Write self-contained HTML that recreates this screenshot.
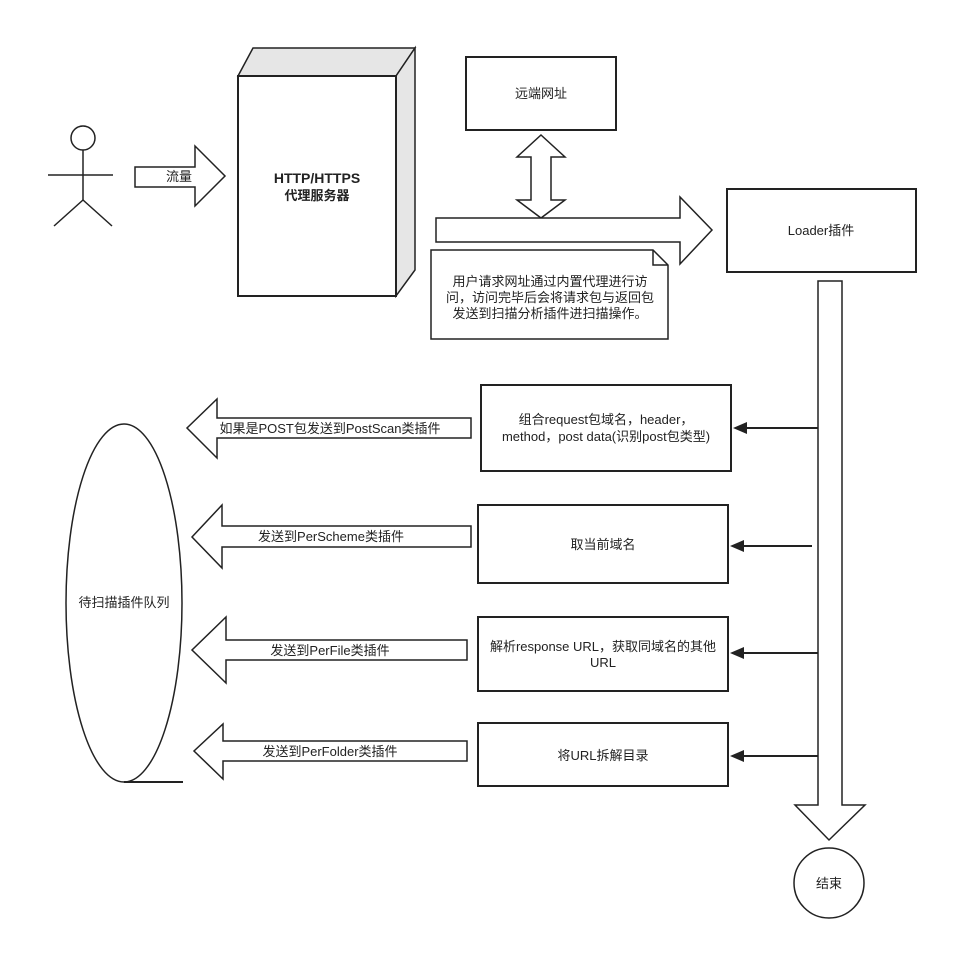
<!DOCTYPE html>
<html><head><meta charset="utf-8"><style>
body{margin:0;background:#fff}
svg{display:block}
text{font-family:"Liberation Sans","Noto Sans CJK SC",sans-serif;font-size:13px;fill:#222}
</style></head><body>
<svg width="978" height="980" viewBox="0 0 978 980" xmlns="http://www.w3.org/2000/svg">
<g fill="none" stroke="#222" stroke-width="2">
<circle cx="83" cy="138" r="12" stroke-width="1.5"/>
<line x1="83" y1="150" x2="83" y2="200" stroke-width="1.5"/>
<line x1="48" y1="175" x2="113" y2="175" stroke-width="1.5"/>
<line x1="83" y1="200" x2="54" y2="226" stroke-width="1.5"/>
<line x1="83" y1="200" x2="112" y2="226" stroke-width="1.5"/>
<polygon points="135,167 195,167 195,146 225,176 195,206 195,187 135,187" fill="#fff" stroke-width="1.5"/>
<polygon points="238,76 253,48 415,48 396,76" fill="#e6e6e6" stroke-width="1.5"/>
<polygon points="396,76 415,48 415,270 396,296" fill="#e6e6e6" stroke-width="1.5"/>
<rect x="238" y="76" width="158" height="220" fill="#fff"/>
<rect x="466" y="57" width="150" height="73" fill="#fff"/>
<polygon points="541,135 565,157 551,157 551,200 565,200 541,218 517,200 531,200 531,157 517,157" fill="#fff" stroke-width="1.5"/>
<polygon points="436,218 680,218 680,197 712,230 680,264 680,242 436,242" fill="#fff" stroke-width="1.5"/>
<polygon points="431,250 653,250 668,265 668,339 431,339" fill="#fff" stroke-width="1.5"/>
<polyline points="653,250 653,265 668,265" stroke-width="1.5"/>
<rect x="727" y="189" width="189" height="83" fill="#fff"/>
<polygon points="818,281 842,281 842,805 865,805 829,840 795,805 818,805" fill="#fff" stroke-width="1.5"/>
<circle cx="829" cy="883" r="35" fill="#fff" stroke-width="1.5"/>
<rect x="481" y="385" width="250" height="86"/>
<rect x="478" y="505" width="250" height="78"/>
<rect x="478" y="617" width="250" height="74"/>
<rect x="478" y="723" width="250" height="63"/>
<line x1="818" y1="428" x2="745" y2="428"/>
<line x1="812" y1="546" x2="742" y2="546"/>
<line x1="818" y1="653" x2="742" y2="653"/>
<line x1="818" y1="756" x2="742" y2="756"/>
</g>
<g fill="#222">
<polygon points="733,428 747,422 747,434"/>
<polygon points="730,546 744,540 744,552"/>
<polygon points="730,653 744,647 744,659"/>
<polygon points="730,756 744,750 744,762"/>
</g>
<g fill="#fff" stroke="#222" stroke-width="1.5">
<polygon points="471,418 217,418 217,399 187,428 217,458 217,438 471,438"/>
<polygon points="471,526 222,526 222,505 192,537 222,568 222,547 471,547"/>
<polygon points="467,640 226,640 226,617 192,650 226,683 226,660 467,660"/>
<polygon points="467,741 223,741 223,724 194,751 223,779 223,761 467,761"/>
<ellipse cx="124" cy="603" rx="58" ry="179"/>
<line x1="124" y1="782" x2="183" y2="782" stroke-width="2"/>
</g>
<text x="179" y="181" text-anchor="middle">流量</text>
<text x="317" y="183" text-anchor="middle" font-weight="bold" style="font-size:14px">HTTP/HTTPS</text>
<text x="317" y="200" text-anchor="middle" font-weight="bold">代理服务器</text>
<text x="541" y="98" text-anchor="middle">远端网址</text>
<text x="550" y="286" text-anchor="middle">用户请求网址通过内置代理进行访</text>
<text x="550" y="302" text-anchor="middle">问，访问完毕后会将请求包与返回包</text>
<text x="550" y="318" text-anchor="middle">发送到扫描分析插件进扫描操作。</text>
<text x="821" y="235" text-anchor="middle">Loader插件</text>
<text x="829" y="888" text-anchor="middle">结束</text>
<text x="606" y="424" text-anchor="middle">组合request包域名，header，</text>
<text x="606" y="441" text-anchor="middle">method，post data(识别post包类型)</text>
<text x="603" y="549" text-anchor="middle">取当前域名</text>
<text x="603" y="651" text-anchor="middle">解析response URL，获取同域名的其他</text>
<text x="603" y="667" text-anchor="middle">URL</text>
<text x="603" y="760" text-anchor="middle">将URL拆解目录</text>
<text x="330" y="433" text-anchor="middle">如果是POST包发送到PostScan类插件</text>
<text x="331" y="541" text-anchor="middle">发送到PerScheme类插件</text>
<text x="330" y="655" text-anchor="middle">发送到PerFile类插件</text>
<text x="330" y="756" text-anchor="middle">发送到PerFolder类插件</text>
<text x="124" y="607" text-anchor="middle">待扫描插件队列</text>
</svg>
</body></html>
